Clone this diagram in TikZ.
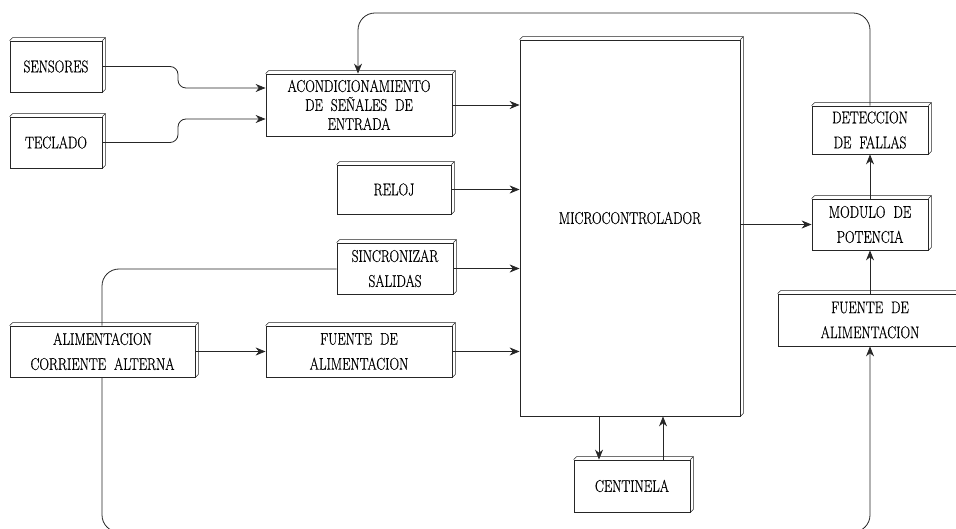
\documentclass[tikz,border=0pt]{standalone}
\usepackage{fontspec}
\setmainfont{Latin Modern Roman}[FakeStretch=0.78,FakeBold=0.6]
\usetikzlibrary{arrows.meta}
\tikzset{
  blk/.style={draw=black!85, line width=0.8pt, fill=white, align=center, inner sep=0pt,
    font=\fontsize{17}{19}\selectfont},
  two/.style={font=\fontsize{17}{25}\selectfont},
  con/.style={draw=black!85, line width=0.8pt},
  arr/.style={con, -{Stealth[length=10pt,width=8pt]}},
}
\newcommand{\depth}[1]{%
  \draw[con, line width=0.6pt] (#1.north west) -- ++(3,-3) -- ([shift={(3,-3)}]#1.north east) -- ([shift={(3,-3)}]#1.south east) -- (#1.south east);
  \draw[con, line width=0.6pt] (#1.north east) -- ++(3,-3);}
\begin{document}
\begin{tikzpicture}[x=1pt,y=-1pt]
\useasboundingbox (0,0) rectangle (956,529);
% nodes
\node[blk, minimum width=92pt, minimum height=51pt] (sens) at (56,66.5) {SENSORES};
\node[blk, minimum width=92pt, minimum height=51pt] (tec) at (56,142.5) {TECLADO};
\node[blk, minimum width=186pt, minimum height=62pt] (acond) at (359,105) {ACONDICIONAMIENTO\\DE\ \ SEÑALES\ \ DE\\ENTRADA};
\node[blk, minimum width=114pt, minimum height=49pt] (reloj) at (394,189.5) {RELOJ};
\node[blk, two, minimum width=116pt, minimum height=51pt] (sinc) at (395,268.5) {SINCRONIZAR\\SALIDAS};
\node[blk, two, minimum width=186pt, minimum height=51pt] (fue1) at (359,351.5) {FUENTE\ \ DE\\ALIMENTACION};
\node[blk, two, minimum width=185pt, minimum height=51pt] (alim) at (102.5,351.5) {ALIMENTACION\\CORRIENTE\ \ ALTERNA};
\node[blk, minimum width=220pt, minimum height=376pt] (micro) at (630,228) {};
\node[font=\fontsize{17}{19}\selectfont] (mlbl) at (630,218) {MICROCONTROLADOR};
\node[blk, minimum width=116pt, minimum height=52pt] (cent) at (632,486) {CENTINELA};
\node[blk, two, minimum width=116pt, minimum height=48pt] (det) at (870,130) {DETECCION\\DE\ \ FALLAS};
\node[blk, two, minimum width=116pt, minimum height=51pt] (mod) at (870,224.5) {MODULO\ \ DE\\POTENCIA};
\node[blk, two, minimum width=184pt, minimum height=52pt] (fue2) at (870,320) {FUENTE\ \ DE\\ALIMENTACION};
\depth{sens}\depth{tec}\depth{acond}\depth{reloj}\depth{sinc}\depth{fue1}\depth{alim}
\depth{micro}\depth{cent}\depth{det}\depth{mod}\depth{fue2}
% connectors
\draw[arr, rounded corners=8pt] (sens.east) -- (178,66.5) -- (178,88) -- (acond.west |- 0,88);
\draw[arr, rounded corners=8pt] (tec.east) -- (178,142.5) -- (178,119) -- (acond.west |- 0,119);
\draw[arr] (acond.east) -- (micro.west |- acond.east);
\draw[arr] (reloj.east) -- (micro.west |- reloj.east);
\draw[arr] (sinc.east) -- (micro.west |- sinc.east);
\draw[arr] (fue1.east) -- (micro.west |- fue1.east);
\draw[arr] (alim.east) -- (fue1.west);
\draw[arr] (micro.south -| 599,0) -- (cent.north -| 599,0);
\draw[arr] (cent.north -| 663,0) -- (micro.south -| 663,0);
\draw[arr] (micro.east |- mod.west) -- (mod.west);
\draw[arr] (mod.north) -- (det.south);
\draw[arr] (fue2.north) -- (mod.south);
\draw[arr, rounded corners=17pt] (det.north) -- (870,13) -- (358,13) -- (acond.north -| 358,0);
\draw[con, rounded corners=17pt] (alim.north -| 102,0) -- (102,269) -- (sinc.west |- 0,269);
\draw[arr, rounded corners=17pt] (alim.south -| 102,0) -- (102,532) -- (870,532) -- (fue2.south);
\end{tikzpicture}
\end{document}
